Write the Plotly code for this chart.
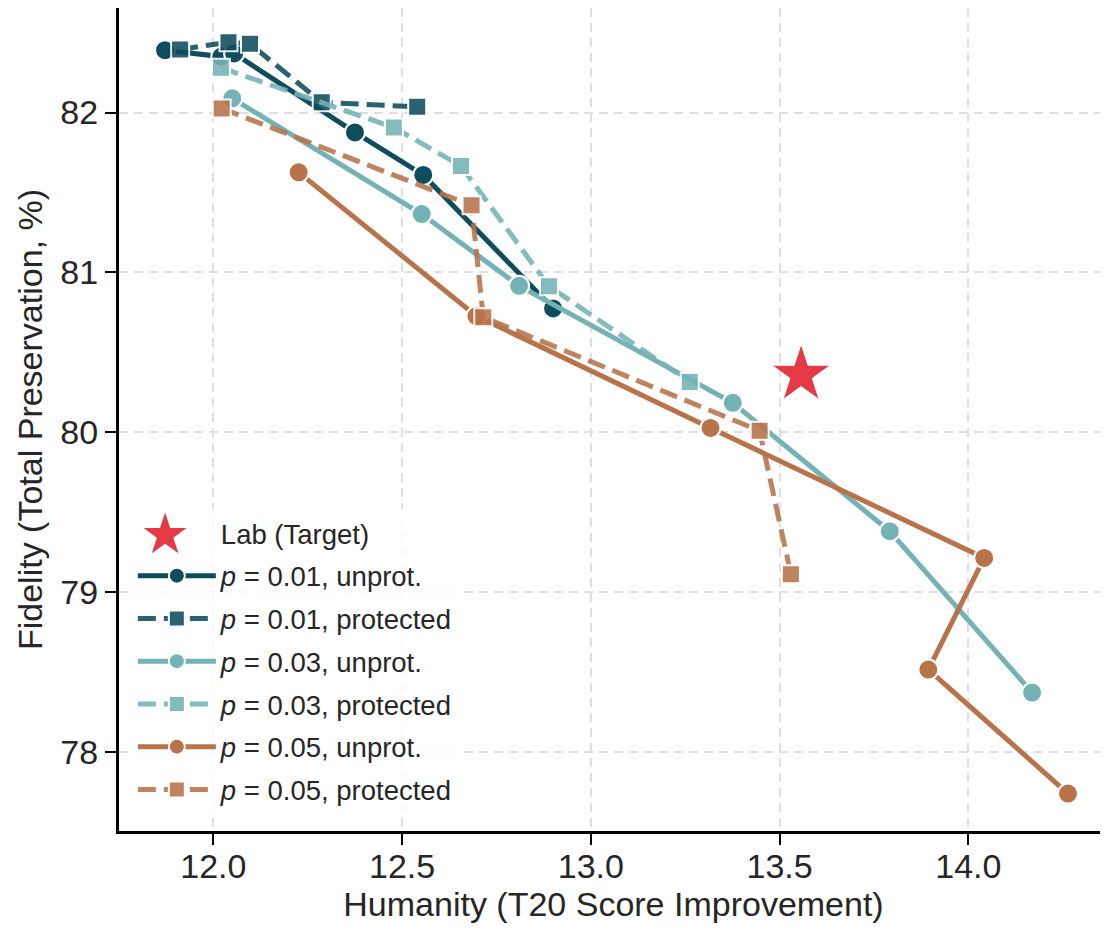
import plotly.graph_objects as go

# ---- data ----
star_x = [13.557]
star_y = [80.36]

p01_unprot_x = [11.872, 12.021, 12.055, 12.375, 12.556, 12.900]
p01_unprot_y = [82.39, 82.35, 82.37, 81.876, 81.61, 80.775]

p01_prot_x = [11.912, 12.040, 12.097, 12.287, 12.540]
p01_prot_y = [82.395, 82.44, 82.43, 82.064, 82.036]

p03_unprot_x = [12.050, 12.552, 12.810, 13.376, 13.792, 14.169]
p03_unprot_y = [82.089, 81.365, 80.916, 80.184, 79.381, 78.372]

p03_prot_x = [12.020, 12.478, 12.656, 12.889, 13.262]
p03_prot_y = [82.28, 81.907, 81.665, 80.914, 80.315]

p05_unprot_x = [12.226, 12.697, 13.317, 14.042, 13.894, 14.264]
p05_unprot_y = [81.626, 80.727, 80.027, 79.214, 78.516, 77.74]

p05_prot_x = [12.022, 12.684, 12.715, 13.447, 13.530]
p05_prot_y = [82.026, 81.42, 80.72, 80.009, 79.112]

x_ticks = [12.0, 12.5, 13.0, 13.5, 14.0]
y_ticks = [78, 79, 80, 81, 82]

DARK = "#0f4c5c"
LIGHT = "#74b3b5"
BROWN = "#b8734a"
STAR = "#e63946"
FONT = "Liberation Sans, Arial, sans-serif"
TXT = "#262626"

fig = go.Figure()

# star in plot; its legend entry uses a transparent icon, overlaid by a big star glyph
fig.add_trace(go.Scatter(
    x=star_x, y=star_y, mode="markers", showlegend=False,
    marker=dict(symbol="star", size=44, color=STAR, line=dict(color="white", width=1)),
))
fig.add_trace(go.Scatter(
    x=[None], y=[None], mode="markers", name="Lab (Target)",
    legendgroup="g0",
    marker=dict(symbol="star", size=16, color="rgba(0,0,0,0)"),
))

series = [
    ("<i>p</i> = 0.01, unprot.", p01_unprot_x, p01_unprot_y, DARK, "circle", "solid", 1.0),
    ("<i>p</i> = 0.01, protected", p01_prot_x, p01_prot_y, DARK, "square", "18px,8px", 0.88),
    ("<i>p</i> = 0.03, unprot.", p03_unprot_x, p03_unprot_y, LIGHT, "circle", "solid", 1.0),
    ("<i>p</i> = 0.03, protected", p03_prot_x, p03_prot_y, LIGHT, "square", "18px,8px", 0.88),
    ("<i>p</i> = 0.05, unprot.", p05_unprot_x, p05_unprot_y, BROWN, "circle", "solid", 1.0),
    ("<i>p</i> = 0.05, protected", p05_prot_x, p05_prot_y, BROWN, "square", "18px,8px", 0.88),
]

for i, (name, xs, ys, col, sym, dash, op) in enumerate(series):
    fig.add_trace(go.Scatter(
        x=xs, y=ys, mode="lines+markers", name=name,
        legendgroup=f"g{i+1}", opacity=op,
        line=dict(color=col, width=5, dash=dash),
        marker=dict(symbol=sym, size=20 if sym == "circle" else 18, color=col,
                    line=dict(color="white", width=2)),
    ))

axis_common = dict(
    showline=True, linecolor="black", linewidth=3, mirror=False,
    ticks="outside", ticklen=11, tickwidth=2, tickcolor="black",
    showgrid=True, gridcolor="#dcdfe6", gridwidth=1.5, griddash="9px,6px",
    zeroline=False, automargin=False,
    tickfont=dict(family=FONT, size=34, color=TXT),
)

fig.update_layout(
    width=1108, height=936,
    margin=dict(l=111, r=8, t=0, b=113),
    paper_bgcolor="white", plot_bgcolor="white",
    font=dict(family=FONT, color=TXT),
    showlegend=True,
    legend=dict(
        x=0.014, y=0.020, xanchor="left", yanchor="bottom",
        bgcolor="rgba(255,255,255,0.8)", borderwidth=0,
        font=dict(family=FONT, size=27.5, color=TXT),
        traceorder="grouped", tracegroupgap=4,
        itemsizing="trace", itemwidth=78,
    ),
    xaxis=dict(
        range=[11.75, 14.37], tickvals=x_ticks,
        ticktext=[f"{v:.1f}" for v in x_ticks],
        ticklabelstandoff=-8,
        title=dict(text="Humanity (T20 Score Improvement)",
                   font=dict(family=FONT, size=34, color=TXT), standoff=4),
        **axis_common,
    ),
    yaxis=dict(
        range=[77.506, 82.654], tickvals=y_ticks,
        ticktext=[str(v) for v in y_ticks],
        title=dict(text="Fidelity (Total Preservation, %)",
                   font=dict(family=FONT, size=34, color=TXT), standoff=8),
        **axis_common,
    ),
    annotations=[dict(
        text="★", xref="paper", yref="paper", x=0.0465, y=0.362,
        xanchor="center", yanchor="middle", showarrow=False,
        font=dict(family="DejaVu Sans", size=56, color=STAR),
    )],
)

fig.write_html("out.html")
